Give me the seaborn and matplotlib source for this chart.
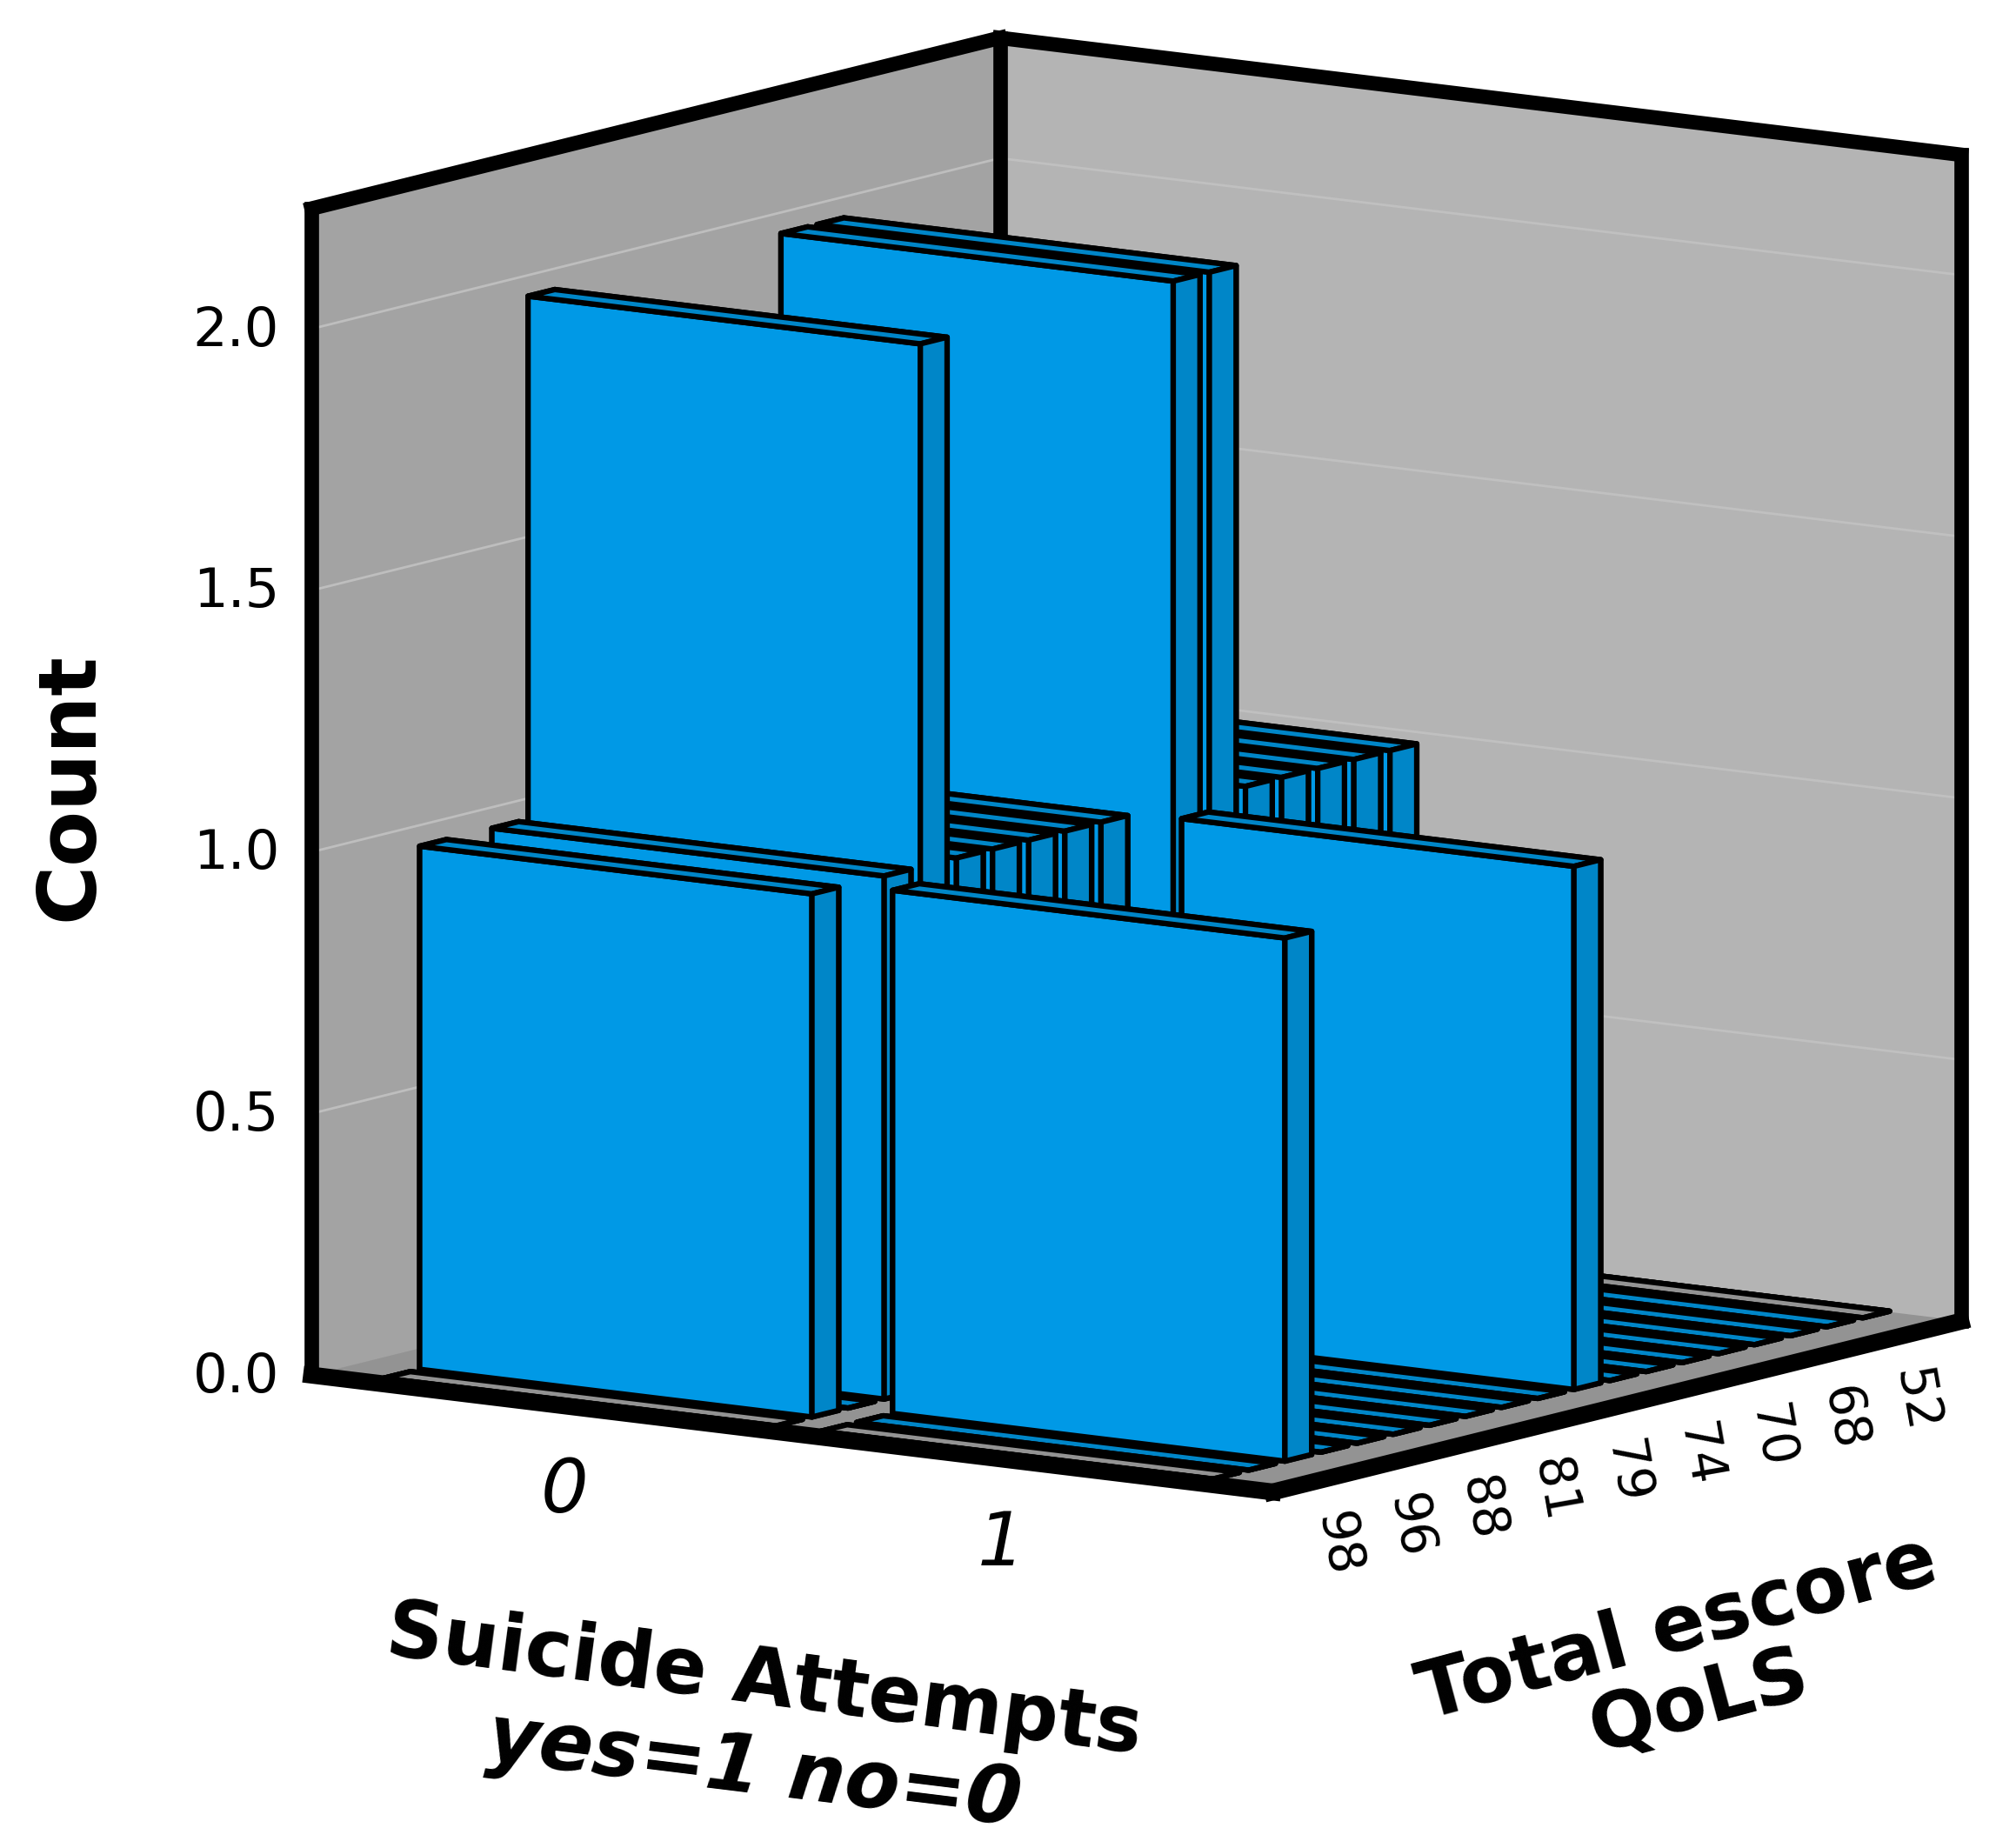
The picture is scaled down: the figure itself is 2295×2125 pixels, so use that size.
"""Count of QoLS total score by suicide attempts, drawn as a 3D bar chart."""

import matplotlib

matplotlib.use("Agg")
import matplotlib.pyplot as plt
import numpy as np
import seaborn as sns
from mpl_toolkits.mplot3d import proj3d

# data, one count per QoLS category, front to back
ATTEMPT_LABELS = ["0", "1"]
COUNTS_NO = [0, 1, 0, 1, 2, 1, 1, 1, 1, 1, 0, 2, 2, 1, 1, 1, 1, 1, 0]
COUNTS_YES = [0, 0, 1, 0, 0, 0, 0, 0, 0, 0, 1, 0, 0, 0, 0, 0, 0, 0, 0]
# every second category carries a label, starting at the second one
QOLS_LABELS = ["98", "96", "88", "81", "79", "74", "70", "68", "52"]
COUNT_TICKS = [0.0, 0.5, 1.0, 1.5, 2.0]

BLUE = "#0099E6"
BLUE_DARK = "#0086C8"
FLOOR = "#939393"
XLIM = (-0.579, 1.621)
YLIM = (-0.79, 18.26)
ZLIM = (0, 2.23)
BAR_W = 0.898
BAR_D = 0.74

sns.set_theme(style="white")
plt.rcParams["font.family"] = ["DejaVu Sans"]
plt.rcParams["text.color"] = "black"

fig = plt.figure(figsize=(22.95, 21.25), dpi=100, facecolor="white")
ax = fig.add_axes([0.0562, 0.032, 0.9991, 1.079], projection="3d", computed_zorder=False)
ax.set_proj_type("ortho")
ax.view_init(elev=10, azim=-55)
ax.set_box_aspect((923, 944, 932))
ax.set_xlim(*XLIM)
ax.set_ylim(*YLIM)
ax.set_zlim(*ZLIM)
ax.patch.set_alpha(0)
ax.grid(False)
ax.set_xticks([])
ax.set_yticks([])
ax.set_zticks([])
ax.apply_aspect()

for axis, pane in zip((ax.xaxis, ax.yaxis, ax.zaxis), ("#A3A3A3", "#B4B4B4", FLOOR)):
    axis.set_pane_color(pane)
    axis.pane.set_edgecolor(pane)
    axis.line.set_color((0, 0, 0, 0))


def label_at(x, y, z, text, **kw):
    """Put a figure text at the screen position of a 3D data point."""
    px, py, _ = proj3d.proj_transform(x, y, z, ax.get_proj())
    fx, fy = fig.transFigure.inverted().transform(ax.transData.transform((px, py)))
    fig.text(fx, fy, text, **kw)


# faint gridlines on the two walls
for z in COUNT_TICKS[1:]:
    ax.plot([XLIM[0]] * 2, YLIM, [z, z], color="#BEBEBE", lw=2, zorder=1)
    ax.plot(XLIM, [YLIM[1]] * 2, [z, z], color="#C0C0C0", lw=2, zorder=1)

# bars, painted back to front so the box faces overlap properly
order = 10
last = len(COUNTS_NO) - 1
for i in range(last, -1, -1):
    for x, counts in enumerate((COUNTS_NO, COUNTS_YES)):
        top = FLOOR if i in (0, last) else BLUE_DARK
        faces = [top, top, BLUE, BLUE_DARK, BLUE_DARK, BLUE_DARK]
        bar = ax.bar3d(
            x - BAR_W / 2, i - BAR_D / 2, 0, BAR_W, BAR_D, counts[i],
            color=faces, shade=False, edgecolor="black", linewidth=4.5,
        )
        bar.set_zorder(order)
        order += 1

# heavy frame
frame_kw = dict(color="black", lw=12, solid_capstyle="projecting")
x0, x1 = XLIM
y0, y1 = YLIM
z0, z1 = ZLIM
ax.plot([x0, x0], [y1, y1], [z0, z1], zorder=2, **frame_kw)
ax.plot([x0, x0], [y0, y1], [z1, z1], zorder=2, **frame_kw)
ax.plot([x0, x1], [y1, y1], [z1, z1], zorder=2, **frame_kw)
ax.plot([x0, x0], [y0, y0], [z0, z1], zorder=2, **frame_kw)
ax.plot([x1, x1], [y1, y1], [z0, z1], zorder=2, **frame_kw)
front_kw = dict(frame_kw, lw=14)
ax.plot([x0, x1], [y0, y0], [z0, z0], zorder=500, **front_kw)
ax.plot([x1, x1], [y0, y1], [z0, z0], zorder=500, **front_kw)

# tick labels
for z in COUNT_TICKS:
    label_at(x0 - 0.05, y0 - 0.29, z - 0.004, f"{z:.1f}", fontsize=45, ha="right", va="center")
for x, label in enumerate(ATTEMPT_LABELS):
    label_at(x, y0, -0.165, label, fontsize=62, style="italic", ha="center", va="center")
for i, label in enumerate(QOLS_LABELS):
    label_at(x1, 2 * i + 1, -0.13, label, fontsize=42, rotation=-80, ha="center", va="center")

# axis titles
fig.text(55 / 1568, 1 - 618 / 1452, "Count", fontsize=67, weight="bold", rotation=90, ha="center", va="center")
fig.text(600 / 1568, 1 - 1322 / 1452, "Suicide Attempts", fontsize=65, weight="bold",
         rotation=-7.5, ha="center", va="center")
fig.text(592 / 1568, 1 - 1392 / 1452, "yes=1 no=0", fontsize=66, weight="bold", style="italic",
         rotation=-7, ha="center", va="center")
fig.text(1318 / 1568, 1 - 1280 / 1452, "Total escore", fontsize=65, weight="bold",
         rotation=15, ha="center", va="center")
fig.text(1335 / 1568, 1 - 1338 / 1452, "QoLS", fontsize=64, weight="bold",
         rotation=15, ha="center", va="center")

fig.savefig("out.png", dpi=100)
plt.close(fig)
